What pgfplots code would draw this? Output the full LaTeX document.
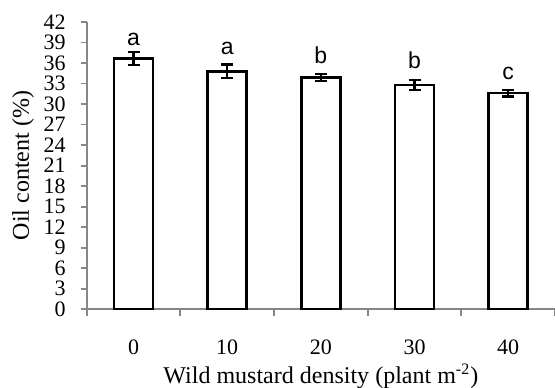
\documentclass[border=0pt]{standalone}
\usepackage{fontspec}
\setmainfont{Liberation Serif}
\newfontfamily\arial{Liberation Sans}
\usepackage{pgfplots}
\pgfplotsset{compat=1.18}
\definecolor{axgray}{RGB}{134,134,134}
\begin{document}
\begin{tikzpicture}
\path[use as bounding box] (-43.35pt,-39pt) rectangle (234pt,154.5pt);
\begin{axis}[
  at={(0,0)}, anchor=south west,
  scale only axis, width=234pt, height=143.5pt,
  xmin=-0.5, xmax=4.5, ymin=0, ymax=42,
  axis lines*=left,
  axis line style={axgray, line width=0.9pt},
  tick align=outside,
  xtick={0,1,2,3,4},
  xticklabels={0,10,20,30,40},
  minor xtick={-0.5,0.5,1.5,2.5,3.5,4.5},
  major x tick style={draw=none},
  minor x tick style={axgray, line width=0.9pt},
  minor tick length=3.5pt,
  ytick={0,3,...,42},
  major y tick style={axgray, line width=0.9pt},
  major tick length=3pt,
  /pgf/number format/assume math mode=true,
  tick label style={font=\fontsize{11}{11}\selectfont},
  xticklabel style={yshift=-9pt},
  yticklabel style={xshift=-4pt},
  xlabel={Wild mustard density (plant m\textsuperscript{-2})},
  ylabel={Oil content (\%)},
  label style={font=\fontsize{12}{12}\selectfont},
  xlabel style={at={(axis description cs:0.5,0)}, anchor=center, yshift=-33.5pt},
  ylabel style={at={(axis description cs:-0.136,0.5)}, anchor=center},
  clip=false,
]
\addplot[ybar, bar width=19.5pt, bar shift=0pt, fill=white, draw=black, line width=1.3pt,
  error bars/.cd, y dir=both, y explicit,
  error bar style={black, line width=1.2pt},
  error mark options={rotate=90, mark size=3pt, black, line width=1.2pt}]
  table[x=x, y=y, y error=e] {
x y e
0 36.7 0.95
1 34.8 1.0
2 33.9 0.5
3 32.8 0.7
4 31.6 0.5
};
\addplot[draw=none, mark=none, nodes near coords, point meta=explicit symbolic,
  nodes near coords style={font=\arial\fontsize{11.5}{11.5}\selectfont, anchor=base, inner sep=0pt, text=black}]
  table[x=x, y=y, meta=l] {
x y l
0 38.5 a
1 37.3 a
2 35.9 b
3 35.2 b
4 33.6 c
};
\end{axis}
\end{tikzpicture}
\end{document}
